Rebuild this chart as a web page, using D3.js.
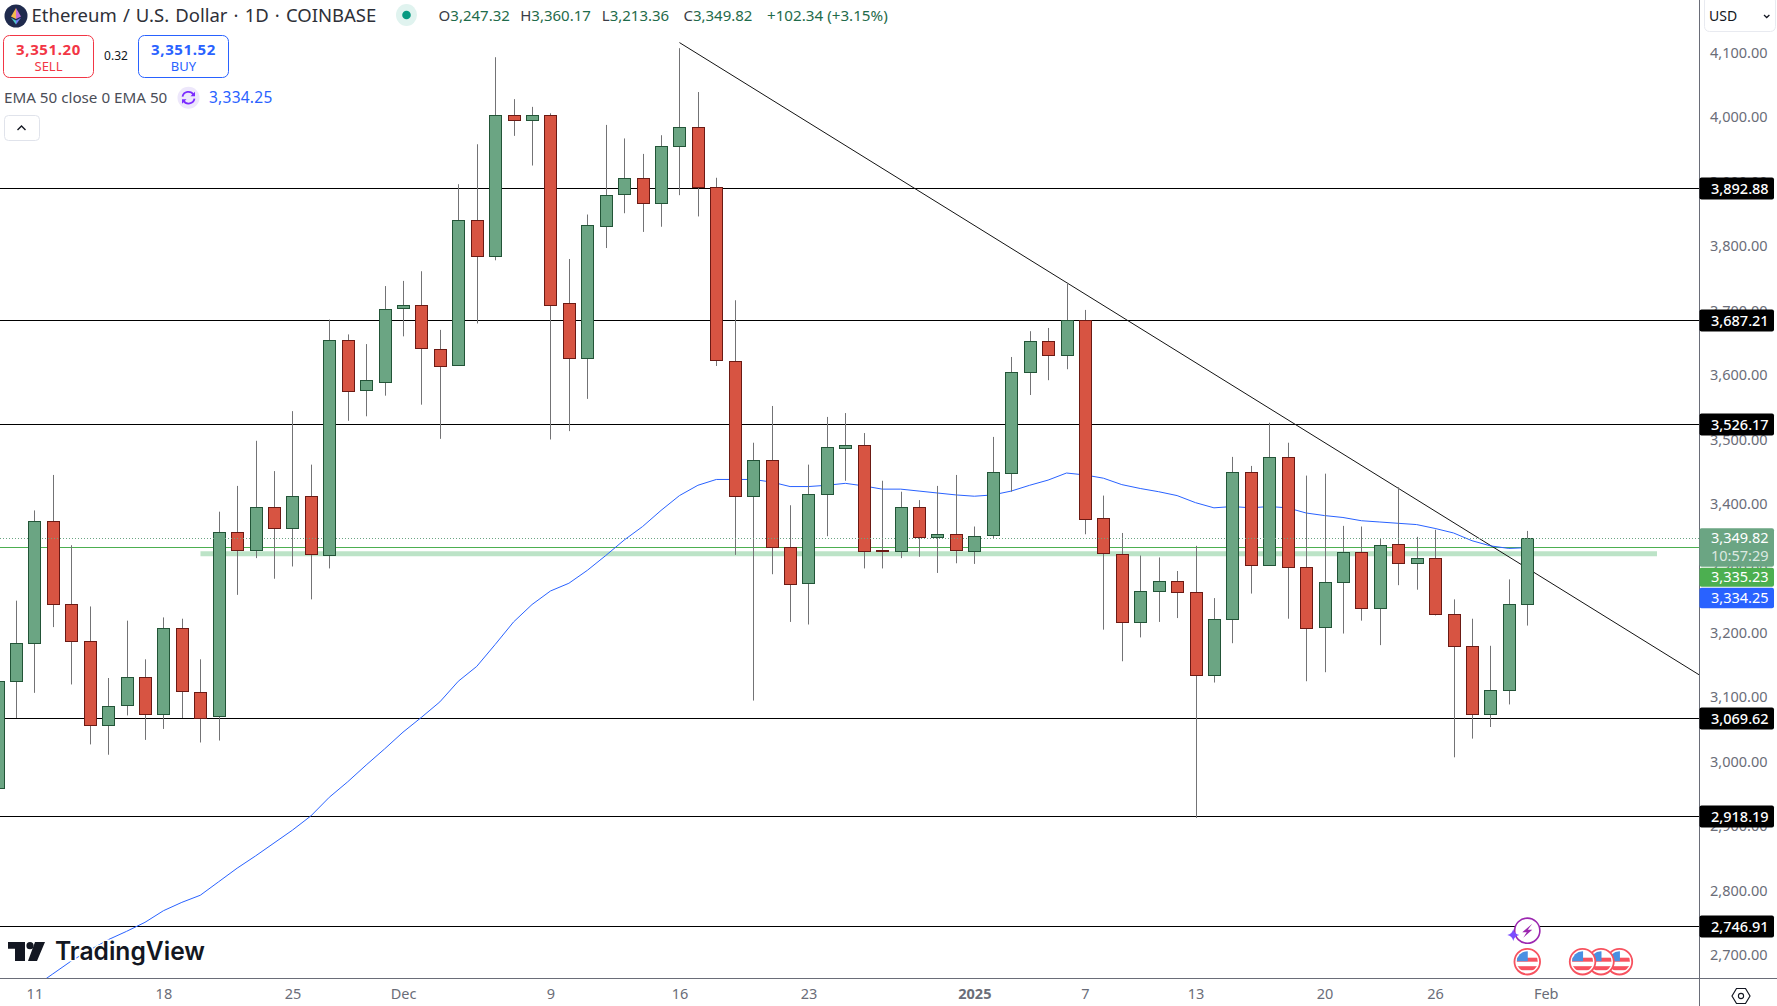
<!DOCTYPE html>
<html>
<head>
<meta charset="utf-8">
<title>Ethereum / U.S. Dollar</title>
<script src="https://cdn.jsdelivr.net/npm/d3@7"></script>
<style>
  html, body { margin: 0; padding: 0; background: #fff; overflow: hidden; }
  text { font-family: "Noto Sans", sans-serif; }
</style>
</head>
<body>
<svg id="chart" width="1777" height="1006"></svg>
<script>
// daily candles, Nov 9 2024 -> Jan 31 2025
const opens = [
  2961,3127,3186,3375,3247,3190,3059,3089,3134,3076,3209,3111,3073,3359,3331,3397,3364,3414,3324,3657,3578,3592,
  3705,3710,3643,3617,3843,3787,4005,3998,4006,3713,3628,3834,3882,3907,3868,3957,3986,3893,3624,3414,3470,3335,3279,3417,3490,3494,3330,3328,3397,3350,3355,
  3330,3353,3451,3607,3655,3634,3688,3380,3325,3219,3267,3282,3265,3136,3223,3451,3307,3475,3304,3211,3280,3327,3240,3340,3310,3318,3231,3181,3076,3113,3247.32
];
const highs = [
  3160,3252,3392,3447,3338,3243,3132,3221,3161,3226,3224,3161,3390,3430,3500,3453,3546,3463,3688,3665,3650,3740,
  3748,3763,3672,3898,3960,4095,4030,4018,4008,3782,3851,3990,3969,3945,3974,4109,4041,3908,3718,3497,3554,3400,3463,3537,3543,3512,3438,3421,3408,3430,3447,
  3367,3506,3630,3670,3675,3745,3703,3415,3357,3322,3319,3298,3337,3256,3475,3461,3528,3497,3446,3449,3368,3367,3349,3428,3351,3362,3254,3224,3182,3285,3360.17
];
const lows = [
  2940,3070,3109,3211,3122,3029,3013,3074,3036,3053,3070,3032,3035,3261,3318,3286,3305,3254,3302,3531,3538,3570,
  3662,3556,3503,3617,3682,3780,3973,3927,3502,3515,3565,3799,3853,3824,3832,3881,3848,3616,3323,3097,3293,3219,3215,3352,3438,3302,3302,3318,3320,3295,3310,
  3309,3349,3421,3571,3594,3611,3355,3207,3158,3195,3219,3225,2915,3125,3186,3263,3306,3224,3127,3141,3201,3221,3183,3276,3269,3229,3009,3038,3056,3091,3213.36
];
const closes = [
  3127,3186,3375,3247,3190,3059,3089,3133,3076,3209,3111,3071,3359,3331,3397,3364,3414,3324,3657,3578,3594,3705,
  3710,3643,3617,3842,3787,4005,3998,4006,3712,3628,3834,3882,3907,3868,3957,3986,3893,3624,3414,3470,3335,3277,3417,3490,3494,3330,3328,3397,3350,3355,3330,
  3353,3451,3607,3655,3634,3688,3380,3325,3219,3267,3282,3265,3136,3223,3451,3307,3475,3304,3209,3281,3327,3240,3338,3310,3318,3231,3181,3076,3113,3247,3349.82
];

// EMA 50, starts Nov 11
const ema50 = [
  2653,2673,2693,2710,2726,2739,2753,2771,2784,2795,2816,2837,2856,2876,2896,2918,2947,2971,2997,3022,
  3048,3071,3095,3127,3150,3184,3219,3246,3267,3279,3299,3322,3346,3367,3392,3415,3431,3440,3440,3440,3436,3429,3429,3431,3434,3430,3425,3425,3422,3419,3416,
  3414,3416,3422,3431,3439,3450,3447,3442,3432,3426,3421,3415,3404,3396,3398,3396,3398,3396,3388,3384,3381,3376,3374,3372,3370,3364,3357,3345,3337,3333,3334.25
];

const levels = [3892.88, 3687.21, 3526.17, 3069.62, 2918.19, 2746.91];
const priceTicks = [4100,4000,3900,3800,3700,3600,3500,3400,3300,3200,3100,3000,2900,2800,2700];
const timeTicks = ['2024-11-11','2024-11-18','2024-11-25','2024-12-01','2024-12-09','2024-12-16','2024-12-23','2025-01-01','2025-01-07','2025-01-13','2025-01-20','2025-01-26','2025-02-01'];
const timeLabels = ['11','18','25','Dec','9','16','23','2025','7','13','20','26','Feb'];
const trendDates = ['2024-12-16','2025-02-10'];
const trendPrices = [4117.7, 3125];
const bandStart = '2024-11-20';
const bandPrice = 3324.8;
const lastClose = 3349.82;
const bidLine = 3335.23;
const flagDates = ['2025-01-31','2025-02-03','2025-02-04','2025-02-05'];

const paneW = 1699;
const paneH = 978;
const green = '#6ba583';
const greenEdge = '#225437';
const red = '#d75442';
const redEdge = '#6b1a14';
const wick = '#737375';
const axisGray = '#6a6d78';
const blue = '#2962ff';

const parseDay = d3.utcParse('%Y-%m-%d');
const days = d3.utcDay.range(parseDay('2024-11-09'), parseDay('2025-02-01'));
const candles = days.map((d, i) => ({ date: d, o: opens[i], h: highs[i], l: lows[i], c: closes[i] }));
const emaPoints = ema50.map((v, i) => ({ date: days[i + 2], v }));

const xScale = d3.scaleUtc().domain([parseDay('2024-11-11'), parseDay('2025-02-01')]).range([34.4, 1545.7]);
const yScale = d3.scaleLinear().domain([4100, 2700]).range([54, 956.5]);
const snap = (v) => Math.round(v) + 0.5;

const svg = d3.select('#chart');
svg.append('defs').append('clipPath').attr('id', 'pane')
  .append('rect').attr('width', paneW).attr('height', paneH);
const pane = svg.append('g').attr('clip-path', 'url(#pane)');

// things under the candles
pane.append('line')
  .attr('x1', xScale(parseDay(bandStart)) + 0.2).attr('x2', 1657)
  .attr('y1', yScale(bandPrice)).attr('y2', yScale(bandPrice))
  .attr('stroke', '#bce3c7').attr('stroke-width', 5);
pane.append('line')
  .attr('x1', 0).attr('x2', paneW)
  .attr('y1', snap(yScale(bidLine))).attr('y2', snap(yScale(bidLine)))
  .attr('stroke', '#4caf50').attr('stroke-width', 1);
pane.selectAll('.level').data(levels).enter().append('line')
  .attr('class', 'level')
  .attr('x1', 0).attr('x2', paneW)
  .attr('y1', (d) => snap(yScale(d))).attr('y2', (d) => snap(yScale(d)))
  .attr('stroke', '#000').attr('stroke-width', 1.2);
pane.append('line')
  .attr('x1', xScale(parseDay(trendDates[0]))).attr('y1', yScale(trendPrices[0]))
  .attr('x2', xScale(parseDay(trendDates[1]))).attr('y2', yScale(trendPrices[1]))
  .attr('stroke', '#131313').attr('stroke-width', 1);

const drawEma = d3.line().x((d) => xScale(d.date)).y((d) => yScale(d.v));
pane.append('path').datum(emaPoints)
  .attr('d', drawEma).attr('fill', 'none').attr('stroke', blue).attr('stroke-width', 1);

// candles
const candle = pane.selectAll('.candle').data(candles).enter().append('g').attr('class', 'candle');
candle.append('line')
  .attr('x1', (d) => snap(xScale(d.date))).attr('x2', (d) => snap(xScale(d.date)))
  .attr('y1', (d) => yScale(d.h)).attr('y2', (d) => yScale(d.l))
  .attr('stroke', wick).attr('stroke-width', 1);
candle.append('rect')
  .attr('x', (d) => snap(xScale(d.date)) - 6)
  .attr('width', 12)
  .attr('y', (d) => snap(yScale(Math.max(d.o, d.c))))
  .attr('height', (d) => Math.max(1, Math.round(yScale(Math.min(d.o, d.c)) - yScale(Math.max(d.o, d.c)))))
  .attr('fill', (d) => (d.c >= d.o ? green : red))
  .attr('stroke', (d) => (d.c >= d.o ? greenEdge : redEdge))
  .attr('stroke-width', 1);

// last price, dotted over the candles
pane.append('line')
  .attr('x1', 0).attr('x2', paneW)
  .attr('y1', snap(yScale(lastClose))).attr('y2', snap(yScale(lastClose)))
  .attr('stroke', green).attr('stroke-width', 1).attr('stroke-dasharray', '1 2');

// logo
const logo = svg.append('g').attr('transform', 'translate(8,942)');
logo.append('path').attr('fill', '#131722')
  .attr('d', 'M0 0H17V19H7V6.7H0Z M27 0H37L29 19H20Z');
logo.append('circle').attr('cx', 22).attr('cy', 3.7).attr('r', 3.6).attr('fill', '#131722');
svg.append('text')
  .attr('x', 55).attr('y', 960)
  .attr('textLength', 150).attr('lengthAdjust', 'spacingAndGlyphs')
  .style('font-family', 'Inter').style('font-size', '25px').style('font-weight', 600)
  .attr('fill', '#131722').attr('stroke', '#fff').attr('stroke-width', 3)
  .style('paint-order', 'stroke')
  .text('TradingView');

// events
const flag = svg.append('defs').append('clipPath').attr('id', 'flagClip');
flag.append('circle').attr('r', 10.5);
const flags = svg.selectAll('.flag').data(flagDates.slice().reverse()).enter().append('g')
  .attr('class', 'flag')
  .attr('transform', (d) => `translate(${xScale(parseDay(d))},961.7)`);
flags.append('circle').attr('r', 12.8).attr('fill', '#fff').attr('stroke', '#f7525f').attr('stroke-width', 1.8);
const flagBody = flags.append('g').attr('clip-path', 'url(#flagClip)');
flagBody.append('rect').attr('x', -11).attr('y', -4).attr('width', 22).attr('height', 4).attr('fill', '#f7525f');
flagBody.append('rect').attr('x', -11).attr('y', 4.5).attr('width', 22).attr('height', 4).attr('fill', '#f7525f');
flagBody.append('rect').attr('x', -11).attr('y', -11).attr('width', 11.5).attr('height', 10.5).attr('fill', '#4a90e2');

const evX = xScale(parseDay(flagDates[0]));
svg.append('circle').attr('cx', evX).attr('cy', 930.7).attr('r', 12.6)
  .attr('fill', '#fff').attr('stroke', '#9c27b0').attr('stroke-width', 1.6);
svg.append('path').attr('transform', `translate(${evX},930.7)`)
  .attr('d', 'M5 -7L-5 1.5H-0.5L-4 7L5 -1H0.5Z').attr('fill', '#9c27b0');
svg.append('path').attr('transform', `translate(${evX - 14},935)`)
  .attr('d', 'M0 -6Q1 -1 6 0Q1 1 0 6Q-1 1 -6 0Q-1 -1 0 -6Z').attr('fill', '#7b4dff');

// axis frames
svg.append('line').attr('x1', paneW + 0.5).attr('x2', paneW + 0.5).attr('y1', 0).attr('y2', 1006)
  .attr('stroke', axisGray).attr('stroke-width', 1);
svg.append('line').attr('x1', 0).attr('x2', 1777).attr('y1', paneH + 0.5).attr('y2', paneH + 0.5)
  .attr('stroke', axisGray).attr('stroke-width', 1);

const yAxis = d3.axisRight(yScale).tickValues(priceTicks).tickFormat(d3.format(',.2f')).tickSize(0).tickPadding(10);
const yAxisG = svg.append('g').attr('transform', `translate(${paneW + 1},-1.3)`).call(yAxis);
yAxisG.select('.domain').remove();
yAxisG.selectAll('text').style('font-family', '"Noto Sans"').style('font-size', '14.5px').attr('fill', axisGray);

const xAxis = d3.axisBottom(xScale).tickValues(timeTicks.map(parseDay))
  .tickFormat((d, i) => timeLabels[i]).tickSize(0).tickPadding(10);
const xAxisG = svg.append('g').attr('transform', `translate(0,${paneH + 1})`).call(xAxis);
xAxisG.select('.domain').remove();
xAxisG.selectAll('text').style('font-family', '"Noto Sans"').style('font-size', '14.5px').attr('fill', axisGray)
  .style('font-weight', (d, i) => (timeLabels[i] === '2025' ? 700 : 400));

// black level tags
const tag = svg.selectAll('.tag').data(levels).enter().append('g')
  .attr('class', 'tag')
  .attr('transform', (d) => `translate(1699.5,${snap(yScale(d))})`);
tag.append('rect').attr('x', 0).attr('y', -11).attr('width', 74.5).attr('height', 22).attr('rx', 2).attr('fill', '#000');
tag.append('text').attr('x', 11.5).attr('dy', '0.35em').attr('fill', '#fff')
  .style('font-size', '14.5px').style('font-weight', 500)
  .text((d) => d3.format(',.2f')(d));

// price tags
function priceTag(y, h, fill, lines) {
  svg.append('rect').attr('x', 1699.5).attr('y', y).attr('width', 74.5).attr('height', h).attr('rx', 2).attr('fill', fill);
  lines.forEach((l) => {
    svg.append('text').attr('x', 1711).attr('y', l.y).attr('dy', '0.35em').attr('fill', l.color)
      .style('font-size', '14.5px').text(l.text);
  });
}
priceTag(528.3, 38.4, green, [
  { y: 538.3, text: d3.format(',.2f')(lastClose), color: '#fff' },
  { y: 555.7, text: '10:57:29', color: '#dce9e1' }
]);
priceTag(567.7, 19, '#4caf50', [{ y: 576.5, text: d3.format(',.2f')(bidLine), color: '#fff' }]);
priceTag(587.7, 20.6, blue, [{ y: 598, text: d3.format(',.2f')(ema50[ema50.length - 1]), color: '#fff' }]);

// header
const coin = svg.append('g').attr('transform', 'translate(16,16)');
coin.append('circle').attr('r', 11.5).attr('fill', '#1f2a4d');
coin.append('path').attr('d', 'M0 -8L-5 0.5L0 3Z').attr('fill', '#f5b94a');
coin.append('path').attr('d', 'M0 -8L5 0.5L0 3Z').attr('fill', '#c86dd7');
coin.append('path').attr('d', 'M-5 1.8L0 4.4L0 8.5Z').attr('fill', '#4fc3c8');
coin.append('path').attr('d', 'M5 1.8L0 4.4L0 8.5Z').attr('fill', '#6f7df0');

svg.append('text').attr('x', 31.5).attr('y', 16).attr('dy', '0.35em')
  .style('font-size', '18.5px').style('word-spacing', '1.3px').attr('fill', '#2e3038')
  .text('Ethereum / U.S. Dollar · 1D · COINBASE');

svg.append('ellipse').attr('cx', 406.5).attr('cy', 15).attr('rx', 10.5).attr('ry', 11).attr('fill', '#e0f3ef');
svg.append('circle').attr('cx', 406.5).attr('cy', 15).attr('r', 4.3).attr('fill', '#089981');

const ohlc = [['O', '3,247.32'], ['H', '3,360.17'], ['L', '3,213.36'], ['C', '3,349.82']];
const ohlcX = [438.6, 520.2, 601.8, 683.4];
ohlc.forEach((p, i) => {
  const t = svg.append('text').attr('x', ohlcX[i]).attr('y', 16).attr('dy', '0.35em').style('font-size', '15px');
  t.append('tspan').attr('fill', '#3a3d47').text(p[0]);
  t.append('tspan').attr('fill', '#1f6b4a').text(p[1]);
});
svg.append('text').attr('x', 767).attr('y', 16).attr('dy', '0.35em').style('font-size', '15.2px')
  .attr('fill', '#1f6b4a').text('+102.34 (+3.15%)');

function tradeBox(x, color, price, label) {
  svg.append('rect').attr('x', x).attr('y', 35.5).attr('width', 90).attr('height', 42).attr('rx', 6)
    .attr('fill', '#fff').attr('stroke', color).attr('stroke-width', 1);
  svg.append('text').attr('x', x + 45).attr('y', 49.3).attr('dy', '0.35em').attr('text-anchor', 'middle')
    .style('font-size', '15px').style('letter-spacing', '0.6px').style('font-weight', 700).attr('fill', color).text(price);
  svg.append('text').attr('x', x + 45).attr('y', 66).attr('dy', '0.35em').attr('text-anchor', 'middle')
    .style('font-size', '13px').attr('fill', color).text(label);
}
tradeBox(3.5, '#f23645', '3,351.20', 'SELL');
tradeBox(138.5, blue, '3,351.52', 'BUY');
svg.append('text').attr('x', 116).attr('y', 55.7).attr('dy', '0.35em').attr('text-anchor', 'middle')
  .style('font-size', '12px').attr('fill', '#131722').text('0.32');

svg.append('text').attr('x', 4).attr('y', 98).attr('dy', '0.35em')
  .style('font-size', '15.2px').attr('fill', '#4a4d57').text('EMA 50 close 0 EMA 50');
svg.append('circle').attr('cx', 188.5).attr('cy', 97.7).attr('r', 11).attr('fill', '#ede7fb');
svg.append('path').attr('transform', 'translate(188.5,97.7)')
  .attr('d', 'M-6 -1A6 6 0 0 1 5 -3M6 1A6 6 0 0 1 -5 3')
  .attr('fill', 'none').attr('stroke', '#7b2bff').attr('stroke-width', 1.8);
svg.append('path').attr('transform', 'translate(188.5,97.7)')
  .attr('d', 'M6.5 -6V-1.5H2Z M-6.5 6V1.5H-2Z').attr('fill', '#7b2bff');
svg.append('text').attr('x', 209).attr('y', 98).attr('dy', '0.35em')
  .style('font-size', '15.5px').style('letter-spacing', '0.25px').attr('fill', blue).text('3,334.25');

svg.append('rect').attr('x', 4.5).attr('y', 115.5).attr('width', 35).attr('height', 25).attr('rx', 4)
  .attr('fill', '#fff').attr('stroke', '#e0e3eb');
svg.append('path').attr('d', 'M17.5 130L21.5 126L25.5 130').attr('fill', 'none').attr('stroke', '#131722').attr('stroke-width', 1.4);

// currency box and settings
svg.append('rect').attr('x', 1704.5).attr('y', -4).attr('width', 71).attr('height', 35.5).attr('rx', 5)
  .attr('fill', '#fff').attr('stroke', '#e8eaf0');
svg.append('text').attr('x', 1709).attr('y', 16.5).attr('dy', '0.35em')
  .style('font-size', '14px').attr('fill', '#131722').text('USD');
svg.append('path').attr('d', 'M1764 15L1766.7 17.5L1769.4 15').attr('fill', 'none').attr('stroke', '#131722').attr('stroke-width', 1.3);
svg.append('polygon').attr('transform', 'translate(1741,996)')
  .attr('points', '-9,0 -4.5,-7.5 4.5,-7.5 9,0 4.5,7.5 -4.5,7.5')
  .attr('fill', 'none').attr('stroke', '#131722').attr('stroke-width', 1.2);
svg.append('circle').attr('cx', 1741).attr('cy', 996).attr('r', 2.6)
  .attr('fill', 'none').attr('stroke', '#131722').attr('stroke-width', 1.1);
</script>
</body>
</html>
